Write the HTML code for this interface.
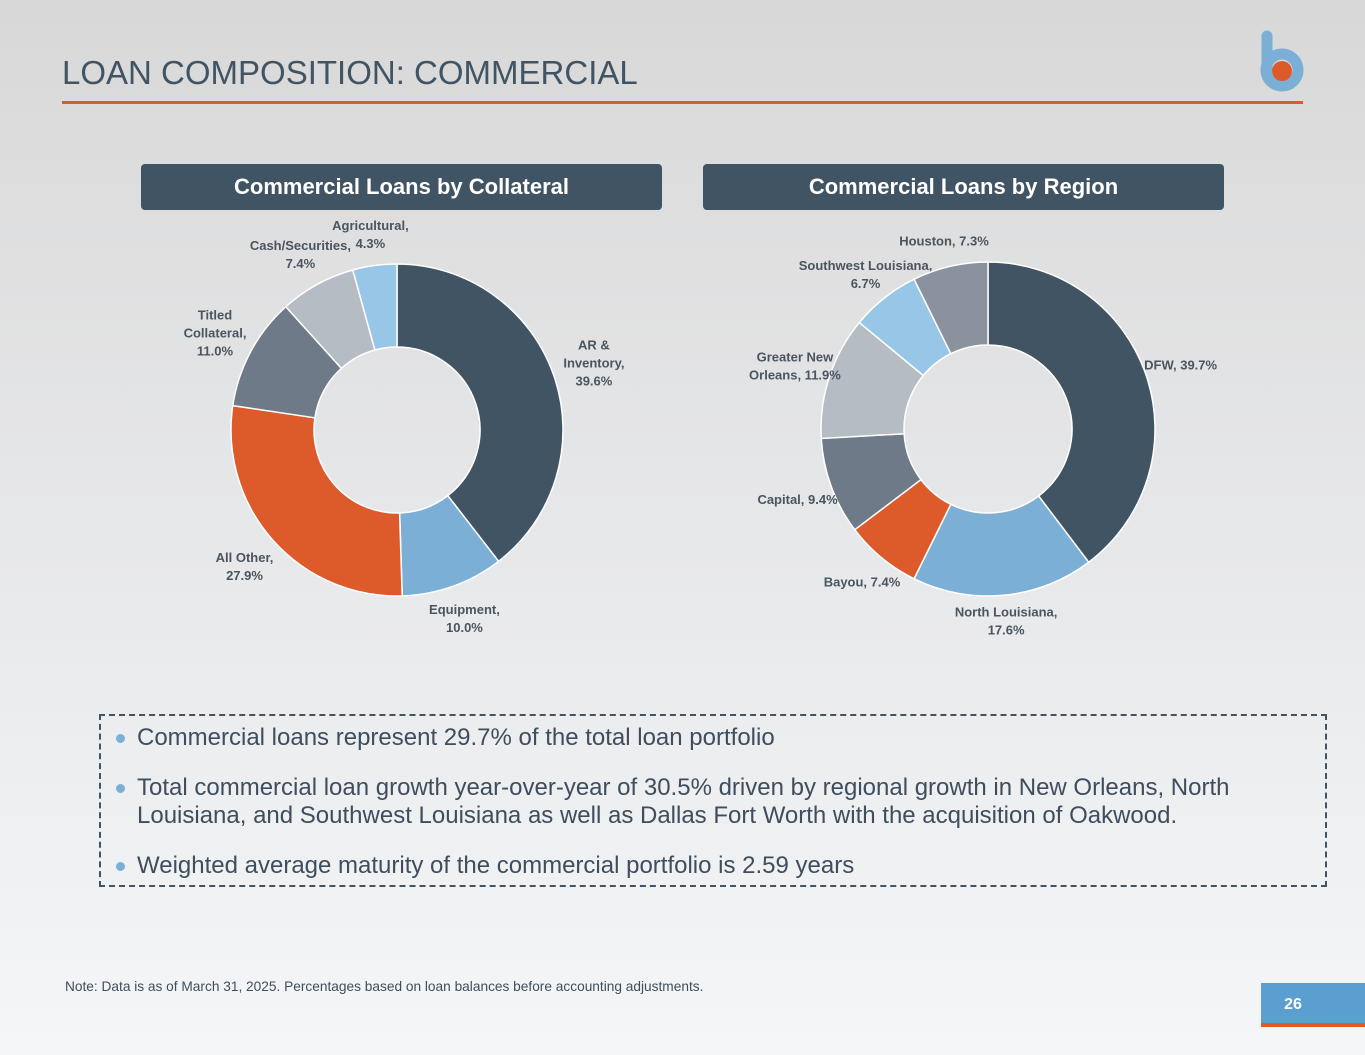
<!DOCTYPE html>
<html><head><meta charset="utf-8"><style>
body{margin:0;width:1365px;height:1055px;overflow:hidden;font-family:"Liberation Sans",sans-serif;background:linear-gradient(#d8d8d8,#e8e9eb 55%,#f4f6f8);position:relative}
.abs{position:absolute}
.hdr{background:#415464;color:#fff;font-weight:bold;font-size:22px;text-align:center;line-height:46px;border-radius:4px;height:46px;width:521px;top:164px}
.lbl{font-size:13px;font-weight:bold;fill:#4a5560}
ul{margin:0;padding:0;list-style:none}
li{position:relative;padding-left:36px;font-size:24px;color:#3e4e5e;line-height:28px;margin-bottom:22px;white-space:nowrap}
li:before{content:"";position:absolute;left:15px;top:10px;width:9px;height:9px;border-radius:50%;background:#7bafd6}
</style></head><body>
<div class="abs" style="left:62px;top:54px;font-size:33px;color:#415464">LOAN COMPOSITION: COMMERCIAL</div>
<div class="abs" style="left:62px;top:101px;width:1241px;height:3px;background:#dd5a2b"></div>
<svg class="abs" style="left:1255px;top:28px" width="52" height="68"><line x1="12" y1="8" x2="12" y2="42" stroke="#7bafd6" stroke-width="11" stroke-linecap="round"/><circle cx="27" cy="42" r="16" fill="none" stroke="#7bafd6" stroke-width="11"/><circle cx="27" cy="43" r="10" fill="#dd5a2b"/></svg>
<div class="abs hdr" style="left:141px">Commercial Loans by Collateral</div>
<div class="abs hdr" style="left:703px">Commercial Loans by Region</div>
<svg class="abs" id="charts" style="left:0;top:0" width="1365" height="660"></svg>
<div class="abs" style="left:99px;top:714px;width:1228px;height:173px;border:2px dashed #415464;box-sizing:border-box;padding-top:8px">
<ul><li>Commercial loans represent 29.7% of the total loan portfolio</li>
<li>Total commercial loan growth year-over-year of 30.5% driven by regional growth in New Orleans, North<br>Louisiana, and Southwest Louisiana as well as Dallas Fort Worth with the acquisition of Oakwood.</li>
<li>Weighted average maturity of the commercial portfolio is 2.59 years</li></ul></div>
<div class="abs" style="left:65px;top:979px;font-size:13.7px;color:#3e4e5e">Note: Data is as of March 31, 2025. Percentages based on loan balances before accounting adjustments.</div>
<div class="abs" style="left:1261px;top:983px;width:104px;height:44px;background:#5a9fd0;color:#fff;font-weight:bold;font-size:16px;text-align:center;line-height:44px;border-bottom:4px solid #dd5a2b;box-sizing:border-box;padding-right:40px">26</div>
<script>
const collCats=["AR & Inventory","Equipment","All Other","Titled Collateral","Cash/Securities","Agricultural"];
const collVals=[39.6,10.0,27.9,11.0,7.4,4.3];
const collColors=["#415464","#7bafd6","#dd5a2b","#6e7a88","#b5bcc4","#98c6e6"];
const collLabels=[["AR &","Inventory,","39.6%"],["Equipment,","10.0%"],["All Other,","27.9%"],["Titled","Collateral,","11.0%"],["Cash/Securities,","7.4%"],["Agricultural,","4.3%"]];
const regCats=["DFW","North Louisiana","Bayou","Capital","Greater New Orleans","Southwest Louisiana","Houston"];
const regVals=[39.7,17.6,7.4,9.4,11.9,6.7,7.3];
const regColors=["#415464","#7bafd6","#dd5a2b","#6e7a88","#b5bcc4","#98c6e6","#8a939d"];
const regLabels=[["DFW, 39.7%"],["North Louisiana,","17.6%"],["Bayou, 7.4%"],["Capital, 9.4%"],["Greater New","Orleans, 11.9%"],["Southwest Louisiana,","6.7%"],["Houston, 7.3%"]];
const NS="http://www.w3.org/2000/svg";
const svg=document.getElementById('charts');
function pt(cx,cy,r,a){return [cx+r*Math.sin(a),cy-r*Math.cos(a)];}
function donut(cx,cy,R,r,vals,colors,labels,cats,labR,name){
  const tot=vals.reduce((a,b)=>a+b,0);let a0=0;
  vals.forEach((v,i)=>{
    const a1=a0+v/tot*2*Math.PI;const lg=(a1-a0)>Math.PI?1:0;
    const p1=pt(cx,cy,R,a0),p2=pt(cx,cy,R,a1),p3=pt(cx,cy,r,a1),p4=pt(cx,cy,r,a0);
    const p=document.createElementNS(NS,'path');
    p.setAttribute('d',`M${p1}A${R},${R} 0 ${lg} 1 ${p2}L${p3}A${r},${r} 0 ${lg} 0 ${p4}Z`);
    p.setAttribute('fill',colors[i]);p.setAttribute('stroke','#fff');p.setAttribute('stroke-width','1.5');
    
    
    svg.appendChild(p);
    const am=(a0+a1)/2;
    const sx=Math.sin(am),cy2=Math.cos(am);
    const lr=labR-8*Math.abs(cy2)+6*Math.abs(sx);
    const lp=pt(cx,cy,lr,am);
    const t=document.createElementNS(NS,'text');
    t.setAttribute('class','lbl');t.setAttribute('text-anchor','middle');
    
    
    const L=labels[i];const y0=lp[1]-(L.length-1)*9+5;
    L.forEach((s,j)=>{const ts=document.createElementNS(NS,'tspan');ts.setAttribute('x',lp[0]);ts.setAttribute('y',y0+j*18);ts.textContent=s;t.appendChild(ts);});
    svg.appendChild(t);a0=a1;
  });
}
donut(397,430,166,83,collVals,collColors,collLabels,collCats,205,'collateral');
donut(988,429,167,84,regVals,regColors,regLabels,regCats,200,'region');
</script>
</body></html>
